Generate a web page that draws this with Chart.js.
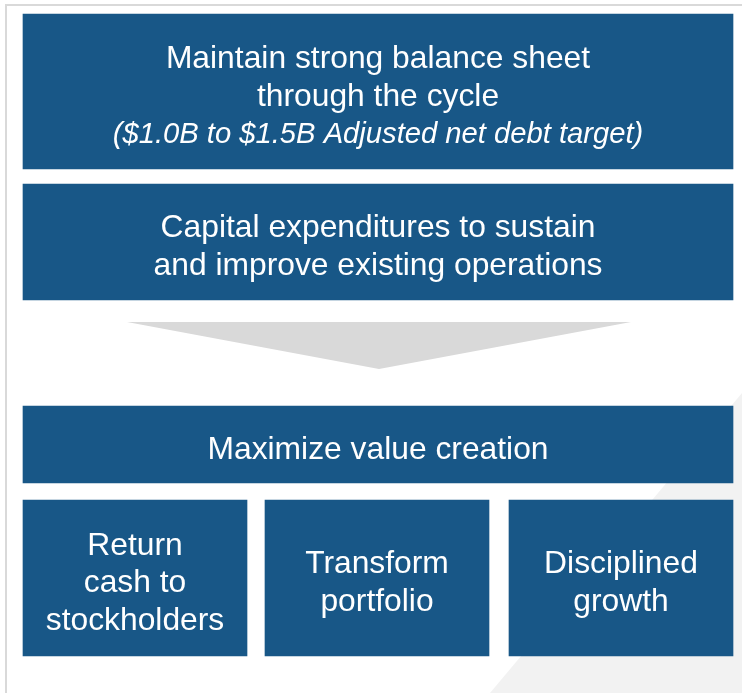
<!DOCTYPE html>
<html>
<head>
<meta charset="utf-8">
<title>Capital allocation priorities</title>
<script src="https://cdn.jsdelivr.net/npm/chart.js@4.4.0/dist/chart.umd.min.js"></script>
<style>
  html, body { margin: 0; padding: 0; background: #ffffff; }
  #wrap { position: relative; width: 742px; height: 693px; overflow: hidden; }
  #frame {
    position: absolute; left: 5px; top: 4px; right: 0; bottom: 0;
    border-top: 2px solid #d9d9d9; border-left: 2px solid #d9d9d9;
  }
  #diagram { position: absolute; left: 0; top: 0; }
</style>
</head>
<body>
<div id="wrap">
  <div id="frame"></div>
  <canvas id="diagram" width="742" height="693"></canvas>
</div>
<script>
const BOX_BLUE = "#185787";
const ARROW_GREY = "#d9d9d9";
const PANEL_GREY = "#f2f2f2";
const FONT_FAMILY = '"Liberation Sans", Arial, sans-serif';

// Diagram text
const balanceLines = ["Maintain strong balance sheet", "through the cycle"];
const balanceNote = "($1.0B to $1.5B Adjusted net debt target)";
const capexLines = ["Capital expenditures to sustain", "and improve existing operations"];
const valueLines = ["Maximize value creation"];
const pillarLines = [
  ["Return", "cash to", "stockholders"],
  ["Transform", "portfolio"],
  ["Disciplined", "growth"],
];

// Layout, in scale units (both axes map 1:1 onto the canvas)
const rowCenterX = 378;
const rowSpans = [[14, 169], [184, 300], [406, 483]];
const pillarCentersX = [135, 377, 621];
const pillarSpan = [500, 656];
const arrowOutline = [{ x: 127, y: 322 }, { x: 379, y: 369 }, { x: 631, y: 322 }];
const panelEdge = [{ x: 490, y: 693 }, { x: 742, y: 393 }];

const drawBlocks = (ctx, bars, blocks) => {
  bars.forEach((bar, i) => {
    const block = blocks[i];
    const lines = block.lines.map((text) => ({ text, italic: false }));
    if (block.note) lines.push({ text: block.note, italic: true });
    const mid = (bar.y + bar.base) / 2 + 14;
    const n = lines.length;
    ctx.save();
    ctx.fillStyle = "#ffffff";
    ctx.textAlign = "center";
    ctx.textBaseline = "alphabetic";
    lines.forEach((line, j) => {
      ctx.font = line.italic ? `italic 29.2px ${FONT_FAMILY}` : `31.8px ${FONT_FAMILY}`;
      ctx.fillText(line.text, bar.x, mid + (j - (n - 1) / 2) * 37.5);
    });
    ctx.restore();
  });
};

// Writes the labels into the boxes drawn by the two bar datasets
const boxLabels = {
  id: "boxLabels",
  afterDatasetsDraw(chart) {
    const rowText = [
      { lines: balanceLines, note: balanceNote },
      { lines: capexLines },
      { lines: valueLines },
    ];
    drawBlocks(chart.ctx, chart.getDatasetMeta(0).data, rowText);
    drawBlocks(chart.ctx, chart.getDatasetMeta(1).data, pillarLines.map((lines) => ({ lines })));
  },
};

new Chart(document.getElementById("diagram"), {
  type: "bar",
  data: {
    datasets: [
      {
        label: "Priorities",
        data: rowSpans.map((span) => ({ x: rowCenterX, y: span })),
        backgroundColor: BOX_BLUE,
        borderWidth: 0,
        barThickness: 710,
        grouped: false,
      },
      {
        label: "Value creation levers",
        data: pillarCentersX.map((x) => ({ x, y: pillarSpan })),
        backgroundColor: BOX_BLUE,
        borderWidth: 0,
        barThickness: 224,
        grouped: false,
      },
      {
        type: "line",
        label: "Flow arrow",
        data: arrowOutline,
        backgroundColor: ARROW_GREY,
        borderColor: "transparent",
        borderWidth: 0,
        pointRadius: 0,
        tension: 0,
        fill: { value: 322 },
      },
      {
        type: "line",
        label: "Panel",
        data: panelEdge,
        backgroundColor: PANEL_GREY,
        borderColor: "transparent",
        borderWidth: 0,
        pointRadius: 0,
        tension: 0,
        fill: { value: 693 },
      },
    ],
  },
  options: {
    responsive: false,
    animation: false,
    events: [],
    layout: { padding: 0 },
    plugins: {
      legend: { display: false },
      tooltip: { enabled: false },
    },
    scales: {
      x: { type: "linear", min: 0, max: 742, offset: false, display: false },
      y: { type: "linear", min: 0, max: 693, reverse: true, beginAtZero: false, display: false },
    },
  },
  plugins: [boxLabels],
});
</script>
</body>
</html>
